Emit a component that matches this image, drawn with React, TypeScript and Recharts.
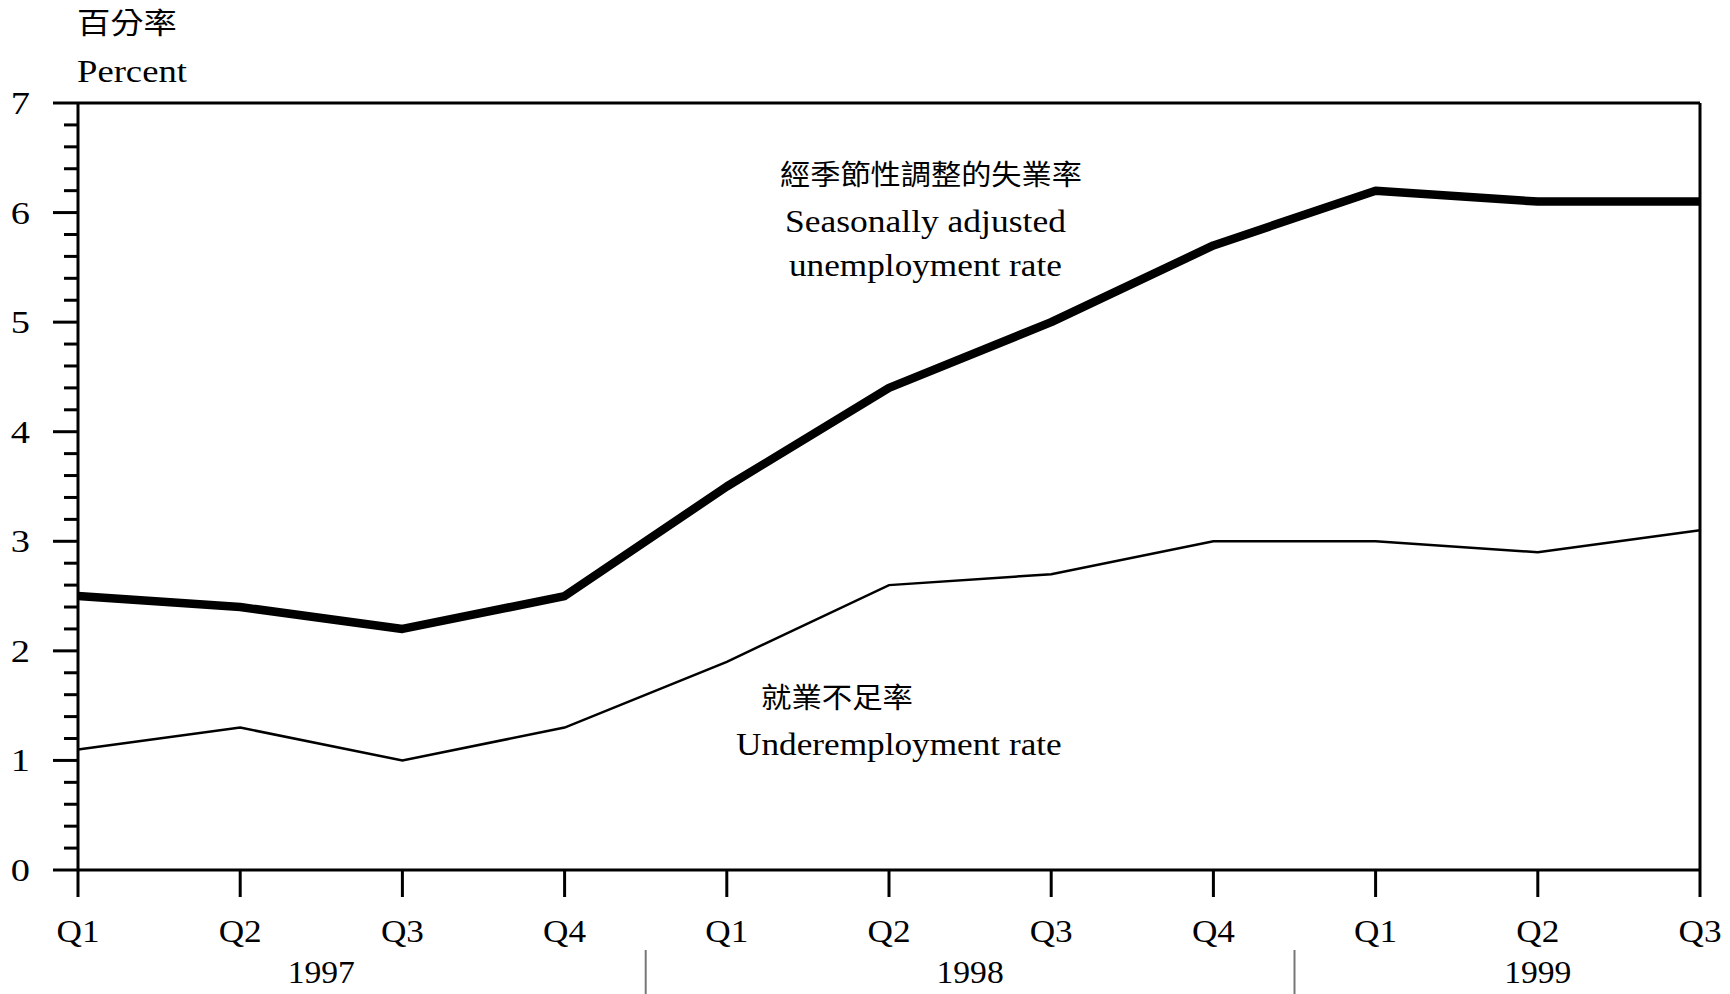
import React, { useLayoutEffect, useRef, useState } from 'react';
import { LineChart, Line, XAxis, YAxis, ReferenceLine } from 'recharts';

const periods = ['Q1 1997', 'Q2 1997', 'Q3 1997', 'Q4 1997', 'Q1 1998', 'Q2 1998', 'Q3 1998', 'Q4 1998', 'Q1 1999', 'Q2 1999', 'Q3 1999'];
const unemployment = [2.5, 2.4, 2.2, 2.5, 3.5, 4.4, 5.0, 5.7, 6.2, 6.1, 6.1];
const underemployment = [1.1, 1.3, 1.0, 1.3, 1.9, 2.6, 2.7, 3.0, 3.0, 2.9, 3.1];
const yMajorTicks = [0, 1, 2, 3, 4, 5, 6, 7];
const yAllTicks = [0, 0.2, 0.4, 0.6, 0.8, 1, 1.2, 1.4, 1.6, 1.8, 2, 2.2, 2.4, 2.6, 2.8, 3, 3.2, 3.4, 3.6, 3.8, 4, 4.2, 4.4, 4.6, 4.8, 5, 5.2, 5.4, 5.6, 5.8, 6, 6.2, 6.4, 6.6, 6.8, 7];
const yearLabels = ['1997', '1998', '1999'];
const yearLabelPos = [1.5, 5.5, 9];
const yearSeparatorPos = [3.5, 7.5];

const data = periods.map((p, i) => ({ period: p, unemployment: unemployment[i], underemployment: underemployment[i] }));

const FONT = "'Liberation Serif', 'Noto Sans CJK TC', serif";
const CJK = "'Noto Sans CJK TC', 'Liberation Serif', sans-serif";

const StretchText = ({ x, y, width, size, family, children }: any) => {
  const ref = useRef<SVGTextElement>(null);
  const [sx, setSx] = useState(1);
  useLayoutEffect(() => {
    if (ref.current) {
      const w = ref.current.getComputedTextLength();
      if (w > 0) setSx(width / w);
    }
  }, [width]);
  return (
    <text ref={ref} transform={`translate(${x},${y}) scale(${sx},1)`} fontFamily={family} fontSize={size} fill="#000">
      {children}
    </text>
  );
};

const YTick = (props: any) => {
  const { x, y, payload } = props;
  const v = Number(payload.value);
  const major = yMajorTicks.some((m) => Math.abs(m - v) < 1e-6);
  return (
    <g>
      <line x1={x - (major ? 25 : 14)} x2={x} y1={y} y2={y} stroke="#000" strokeWidth={3} />
      {major && (
        <text transform={`translate(${x - 48},${y + 11}) scale(1.2,1)`} textAnchor="end" fontFamily={FONT} fontSize={32} fill="#000">
          {String(v)}
        </text>
      )}
    </g>
  );
};

const XTick = (props: any) => {
  const { x, y, payload } = props;
  const q = String(payload.value).split(' ')[0];
  return (
    <g>
      <line x1={x} x2={x} y1={y} y2={y + 27} stroke="#000" strokeWidth={3} />
      <text transform={`translate(${x},${y + 72}) scale(1.1,1)`} textAnchor="middle" fontFamily={FONT} fontSize={32} fill="#000">
        {q}
      </text>
    </g>
  );
};

const YearTick = (props: any) => {
  const { x, y, payload } = props;
  const v = Number(payload.value);
  const si = yearSeparatorPos.indexOf(v);
  if (si >= 0) {
    return <line x1={x} x2={x} y1={y + 20} y2={y + 64} stroke="#777" strokeWidth={2} />;
  }
  const li = yearLabelPos.indexOf(v);
  return (
    <text transform={`translate(${x},${y + 53}) scale(1.05,1)`} textAnchor="middle" fontFamily={FONT} fontSize={32} fill="#000">
      {li >= 0 ? yearLabels[li] : ''}
    </text>
  );
};

export default function App() {
  return (
    <div style={{ position: 'absolute', left: 0, top: 0, width: 1730, height: 994, background: '#fff' }}>
      <LineChart width={1730} height={994} data={data} margin={{ top: 103, right: 30, bottom: 0, left: 0 }}>
        <XAxis
          dataKey="period"
          height={60}
          interval={0}
          tickSize={0}
          tickMargin={0}
          tick={<XTick />}
          axisLine={{ stroke: '#000', strokeWidth: 3 }}
          tickLine={false}
        />
        <XAxis
          xAxisId="yr"
          type="number"
          domain={[0, 10]}
          allowDataOverflow
          ticks={[...yearLabelPos, ...yearSeparatorPos]}
          interval={0}
          height={64}
          tickSize={0}
          tickMargin={0}
          axisLine={false}
          tickLine={false}
          tick={<YearTick />}
        />
        <YAxis
          width={78}
          domain={[0, 7]}
          ticks={yAllTicks}
          interval={0}
          tickSize={0}
          tickMargin={0}
          tick={<YTick />}
          axisLine={{ stroke: '#000', strokeWidth: 3 }}
          tickLine={false}
        />
        <ReferenceLine y={7} stroke="#000" strokeWidth={3} />
        <ReferenceLine x="Q3 1999" stroke="#000" strokeWidth={3} />
        <Line type="linear" dataKey="underemployment" stroke="#000" strokeWidth={2.5} dot={false} isAnimationActive={false} />
        <Line type="linear" dataKey="unemployment" stroke="#000" strokeWidth={8.5} strokeLinejoin="round" dot={false} isAnimationActive={false} />
      </LineChart>
      <svg width={1730} height={994} style={{ position: 'absolute', left: 0, top: 0, pointerEvents: 'none' }}>
        <StretchText x={77} y={34} width={100} size={29} family={CJK}>百分率</StretchText>
        <StretchText x={77} y={82} width={110} size={31} family={FONT}>Percent</StretchText>
        <StretchText x={780} y={185} width={302} size={28} family={CJK}>經季節性調整的失業率</StretchText>
        <StretchText x={785} y={232} width={281} size={31} family={FONT}>Seasonally adjusted</StretchText>
        <StretchText x={789} y={276} width={273} size={31} family={FONT}>unemployment rate</StretchText>
        <StretchText x={761} y={708} width={152} size={28} family={CJK}>就業不足率</StretchText>
        <StretchText x={736} y={755} width={326} size={31} family={FONT}>Underemployment rate</StretchText>
      </svg>
    </div>
  );
}
